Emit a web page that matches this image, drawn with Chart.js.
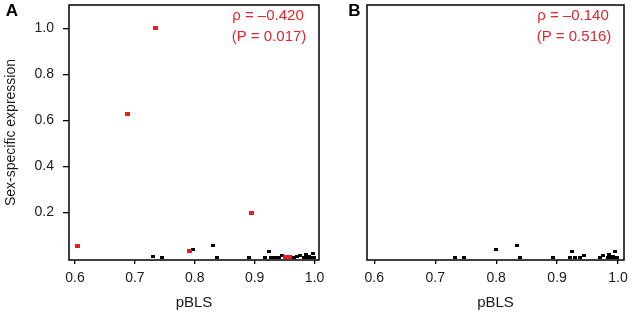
<!DOCTYPE html>
<html>
<head>
<meta charset="utf-8">
<script src="https://cdn.jsdelivr.net/npm/chart.js@4.4.1/dist/chart.umd.min.js"></script>
<style>
  body { margin:0; background:#fff; }
  #wrap { position:relative; width:633px; height:314px; overflow:hidden; }
  canvas { position:absolute; top:0; }
</style>
</head>
<body>
<div id="wrap">
  <canvas id="chartA" width="345" height="314" style="left:0px"></canvas>
  <canvas id="chartB" width="313" height="314" style="left:320px"></canvas>
</div>
<script>
// panel A, red genes
const redA_pbls = [0.604, 0.687, 0.734, 0.792, 0.8955, 0.951, 0.958]
const redA_expr = [0.051, 0.627, 1.0, 0.031, 0.198, 0.004, 0.004]

// panel A, black genes
const blackA_pbls = [0.731, 0.745, 0.797, 0.830, 0.837, 0.891, 0.918, 0.924, 0.928, 0.934, 0.940, 0.945,
                     0.966, 0.970, 0.976, 0.983, 0.986, 0.988, 0.991, 0.994, 0.997, 0.999]
const blackA_expr = [0.006, 0.002, 0.036, 0.053, 0.002, 0.003, 0.004, 0.030, 0.002, 0.002, 0.004, 0.011,
                     0.004, 0.007, 0.012, 0.002, 0.015, 0.004, 0.008, 0.002, 0.022, 0.005]

// panel B, black genes
const blackB_pbls = [0.732, 0.747, 0.7995, 0.834, 0.839, 0.893, 0.921, 0.925, 0.930, 0.938, 0.944,
                     0.970, 0.976, 0.983, 0.986, 0.989, 0.991, 0.993, 0.995, 0.998]
const blackB_expr = [0.004, 0.002, 0.038, 0.053, 0.002, 0.002, 0.003, 0.031, 0.002, 0.002, 0.010,
                     0.004, 0.010, 0.002, 0.014, 0.005, 0.008, 0.002, 0.027, 0.004]

const xTicks = [0.6, 0.7, 0.8, 0.9, 1.0]
const yTicks = [0.2, 0.4, 0.6, 0.8, 1.0]

const statsA = ["\u03C1 = \u20130.420", "(P = 0.017)"]
const statsB = ["\u03C1 = \u20130.140", "(P = 0.516)"]

const RED = "#ee1c1c"
const TXT_RED = "#e3262a"
const FONT = "'Liberation Sans', Arial, sans-serif"

function toPoints(xs, ys){
  return xs.map((x, i) => ({x: x, y: ys[i]}))
}

// small rectangle markers like R's pch=15 at small cex
function marker(w, h, color){
  let c = document.createElement('canvas')
  c.width = w
  c.height = h
  let g = c.getContext('2d')
  g.fillStyle = color
  g.fillRect(0, 0, w, h)
  return c
}

const boxPlugin = {
  id: 'box',
  afterDraw(chart, args, opts){
    const ctx = chart.ctx
    const a = chart.chartArea
    ctx.save()
    ctx.strokeStyle = '#000'
    ctx.lineWidth = 1.5
    ctx.strokeRect(a.left, a.top, a.right - a.left, a.bottom - a.top)

    ctx.fillStyle = '#000'
    ctx.font = "bold 17px " + FONT
    ctx.textAlign = 'center'
    ctx.textBaseline = 'middle'
    ctx.fillText(opts.letter, opts.letterX, 11)

    ctx.fillStyle = TXT_RED
    ctx.font = "15px " + FONT
    ctx.fillText(opts.stats[0], a.right - 51, 16)
    ctx.fillText(opts.stats[1], a.right - 50, 37)
    ctx.restore()
  }
}

function makeChart(id, datasets, xmin, xmax, yAxisWidth, padRight, letter, letterX, stats, showY){
  return new Chart(id, {
    type: 'scatter',
    data: { datasets: datasets },
    options: {
      responsive: false,
      animation: false,
      layout: { padding: { top: 4, right: padRight, left: 0, bottom: 0 } },
      plugins: {
        legend: { display: false },
        tooltip: { enabled: false },
        box: { letter: letter, letterX: letterX, stats: stats }
      },
      scales: {
        x: {
          type: 'linear',
          min: xmin,
          max: xmax,
          afterBuildTicks: axis => { axis.ticks = xTicks.map(v => ({value: v})) },
          afterFit: axis => { axis.height = 54; axis.paddingLeft = 0; axis.paddingRight = 0 },
          border: { display: false },
          grid: { drawOnChartArea: false, drawTicks: true, tickLength: 4, color: '#000', lineWidth: 1.3 },
          ticks: { color: '#1a1a1a', font: { family: FONT, size: 14 }, padding: 6, maxRotation: 0,
                   callback: v => v.toFixed(1) },
          title: { display: true, text: 'pBLS', color: '#1a1a1a', font: { family: FONT, size: 15 },
                   padding: { top: 0, bottom: 2 } }
        },
        y: {
          type: 'linear',
          min: -0.008,
          max: 1.101,
          afterBuildTicks: axis => { axis.ticks = yTicks.map(v => ({value: v})) },
          afterFit: axis => { axis.width = yAxisWidth; axis.paddingTop = 0; axis.paddingBottom = 0 },
          border: { display: false },
          grid: { display: showY, drawOnChartArea: false, drawTicks: true, tickLength: 6, color: '#000', lineWidth: 1.3 },
          ticks: { display: showY, color: '#1a1a1a', font: { family: FONT, size: 14 }, padding: 9,
                   callback: v => v.toFixed(1) },
          title: { display: showY, text: 'Sex-specific expression', color: '#1a1a1a',
                   font: { family: FONT, size: 14 }, padding: { top: 3, bottom: 0 } }
        }
      }
    },
    plugins: [boxPlugin]
  })
}

const redMark = marker(5, 4, RED)
const blackMark = marker(4, 3, '#000')

let chartA = makeChart('chartA', [
  { data: toPoints(redA_pbls, redA_expr), pointStyle: redMark, pointRadius: 3 },
  { data: toPoints(blackA_pbls, blackA_expr), pointStyle: blackMark, pointRadius: 3 }
], 0.59, 1.0075, 69, 26, 'A', 12, statsA, true)

let chartB = makeChart('chartB', [
  { data: toPoints(blackB_pbls, blackB_expr), pointStyle: blackMark, pointRadius: 3 }
], 0.588, 1.0098, 47, 9, 'B', 34.5, statsB, false)
</script>
</body>
</html>
